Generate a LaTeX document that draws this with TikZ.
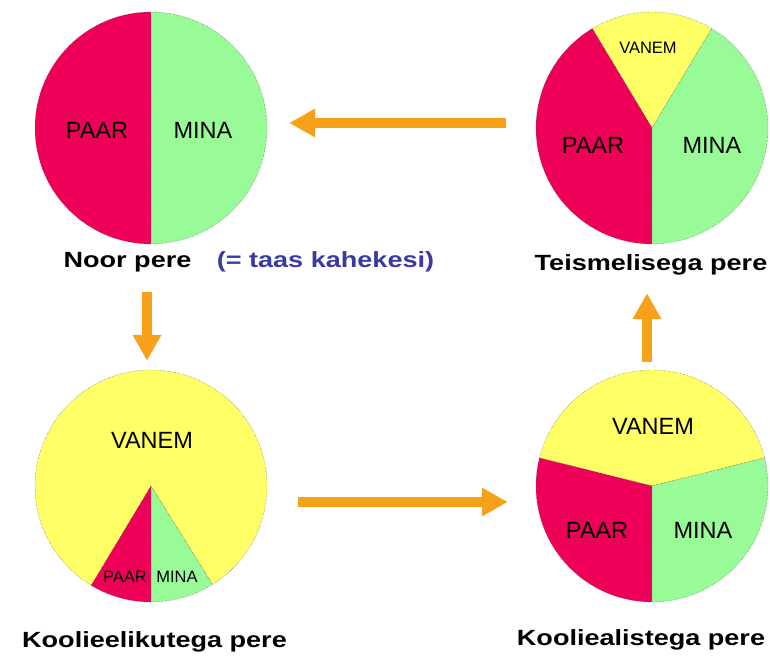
\documentclass[tikz,border=0pt]{standalone}
\usepackage{fontspec}
\setmainfont{Liberation Sans}
\newfontfamily\lblfont{Liberation Sans}[FakeStretch=1.23]
\usetikzlibrary{arrows.meta}
\definecolor{paarred}{RGB}{238,0,88}
\definecolor{minagreen}{RGB}{152,251,152}
\definecolor{vanemyellow}{RGB}{255,255,102}
\definecolor{floworange}{RGB}{247,160,25}
\definecolor{noteblue}{RGB}{58,58,165}

\begin{document}
\begin{tikzpicture}[x=1pt,y=1pt,
  piebox/.style={circle,minimum size=232pt,inner sep=0pt},
  wedge/.style={draw=black!70,line width=0.4pt,densely dotted},
  flow/.style={draw=floworange,line width=9.5pt,-{Triangle[length=26pt,width=27pt]}},
  big/.style={font=\fontsize{23.5}{28}\selectfont,inner sep=0pt},
  small/.style={font=\fontsize{16.5}{20}\selectfont,inner sep=0pt},
  caption/.style={font=\lblfont\bfseries\fontsize{22}{26}\selectfont,anchor=base,inner sep=0pt}]
\useasboundingbox (0,0) rectangle (770,656);

%%%%%%%%%%%%%%%%%%%%%%%%%%%% noor pere
\node[piebox] (noor) at (151,528) {};
\path[wedge,fill=paarred] (noor.center) -- ++(90:116) arc[start angle=90,end angle=270,radius=116] -- cycle;
\path[wedge,fill=minagreen] (noor.center) -- ++(-90:116) arc[start angle=-90,end angle=90,radius=116] -- cycle;
\node[big] (noorpaar) at (97,526) {PAAR};\node[big] (noormina) at (203,526) {MINA};
\node[caption] (noorcap) at (127.5,388) {Noor pere};
\node[caption,text=noteblue] (noornote) at (325.5,388) {(= taas kahekesi)};

%%%%%%%%%%%%%%%%%%%%%%%%%%%% teismelisega pere
\node[piebox] (teis) at (652,528) {};
\path[wedge,fill=vanemyellow] (teis.center) -- ++(59:116) arc[start angle=59,end angle=121,radius=116] -- cycle;
\path[wedge,fill=paarred] (teis.center) -- ++(121:116) arc[start angle=121,end angle=270,radius=116] -- cycle;
\path[wedge,fill=minagreen] (teis.center) -- ++(-90:116) arc[start angle=-90,end angle=59,radius=116] -- cycle;
\node[small] (teisvanem) at (648,608) {VANEM};
\node[big] (teispaar) at (593,511) {PAAR};\node[big] (teismina) at (712,511) {MINA};
\node[caption] (teiscap) at (651,385) {Teismelisega pere};

%%%%%%%%%%%%%%%%%%%%%%%%%%%% koolieelikutega pere
\node[piebox] (klee) at (151,170) {};
\path[wedge,fill=vanemyellow] (klee.center) -- ++(-58:116) arc[start angle=-58,end angle=239,radius=116] -- cycle;
\path[wedge,fill=paarred] (klee.center) -- ++(239:116) arc[start angle=239,end angle=270,radius=116] -- cycle;
\path[wedge,fill=minagreen] (klee.center) -- ++(270:116) arc[start angle=270,end angle=302,radius=116] -- cycle;
\node[big] (kleevanem) at (152,216) {VANEM};
\node[small] (kleepaar) at (125,79) {PAAR};\node[small] (kleemina) at (177,79) {MINA};
\node[caption] (kleecap) at (154.5,9) {Koolieelikutega pere};

%%%%%%%%%%%%%%%%%%%%%%%%%%%% kooliealistega pere
\node[piebox] (kal) at (652,170) {};
\path[wedge,fill=vanemyellow] (kal.center) -- ++(14:116) arc[start angle=14,end angle=166,radius=116] -- cycle;
\path[wedge,fill=paarred] (kal.center) -- ++(166:116) arc[start angle=166,end angle=270,radius=116] -- cycle;
\path[wedge,fill=minagreen] (kal.center) -- ++(270:116) arc[start angle=270,end angle=374,radius=116] -- cycle;
\node[big] (kalvanem) at (653,230) {VANEM};
\node[big] (kalpaar) at (597,126) {PAAR};\node[big] (kalmina) at (703,126) {MINA};
\node[caption] (kalcap) at (641,11) {Kooliealistega pere};

%%%%%%%%%%%%%%%%%%%%%%%%%%%% arrows
\draw[flow,shorten <=30pt,shorten >=22pt] ([yshift=5pt]teis.west) -- ([yshift=5pt]noor.east);
\draw[flow,shorten <=48pt,shorten >=9pt] ([xshift=-4pt]noor.south) -- ([xshift=-4pt]klee.north);
\draw[flow,shorten <=31pt,shorten >=28pt] ([yshift=-16pt]klee.east) -- ([yshift=-16pt]kal.west);
\draw[flow,shorten <=8pt,shorten >=49pt] ([xshift=-5pt]kal.north) -- ([xshift=-5pt]teis.south);

\end{tikzpicture}
\end{document}
